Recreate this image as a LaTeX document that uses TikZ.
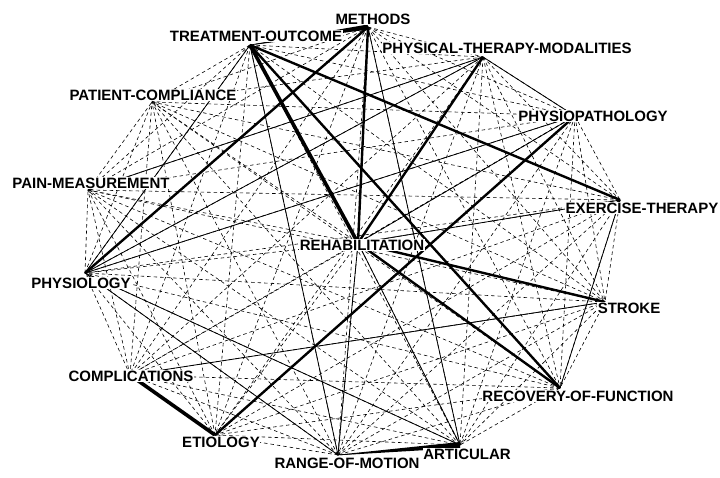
\documentclass[tikz,border=0pt]{standalone}
\usepackage{fontspec}
\newfontfamily\labfont{Liberation Sans}
\usetikzlibrary{calc}
\begin{document}
\begin{tikzpicture}[x=1pt,y=-1pt,
  dashedge/.style={dash pattern=on 3.5pt off 3pt, line width=0.6pt},
  thinedge/.style={line width=0.8pt},
  thickedge/.style={line width=2.4pt},
  heavyedge/.style={line width=3.6pt},
  term/.style={fill=white, inner sep=0.6pt,
    font=\labfont\bfseries\fontsize{15}{15}\selectfont}]
\fill[white] (0,0) rectangle (720,477);
\useasboundingbox (0,0) rectangle (720,477);

% anchor points of the terms
\coordinate (meth) at (368,27);
\coordinate (to)   at (250,45);
\coordinate (ptm)  at (483,57);
\coordinate (phpa) at (575,116);
\coordinate (ex)   at (620,200);
\coordinate (str)  at (605,302);
\coordinate (rec)  at (560,388);
\coordinate (art)  at (460,445);
\coordinate (rom)  at (338,455);
\coordinate (eti)  at (215,435);
\coordinate (comp) at (130,375);
\coordinate (phys) at (85,273);
\coordinate (pain) at (88,190);
\coordinate (pc)   at (152,102);
\coordinate (reh)  at (358,243);

% weak co-occurrences: every pair of terms
\foreach \a [count=\i] in {meth,to,ptm,phpa,ex,str,rec,art,rom,eti,comp,phys,pain,pc,reh}{
  \foreach \b [count=\j] in {meth,to,ptm,phpa,ex,str,rec,art,rom,eti,comp,phys,pain,pc,reh}{
    \ifnum\j>\i \draw[dashedge] (\a) -- (\b);\fi
  }
}

% medium co-occurrences
\foreach \a/\b in {phys/ptm, phys/phpa, phys/to, pain/ptm, reh/phpa, reh/rom,
  reh/art, reh/ex, comp/str, phys/art, phys/rom, ex/rec, art/meth, rom/to,
  ptm/phpa}
  \draw[thinedge] (\a) -- (\b);

% strong co-occurrences
\draw[heavyedge] (to) -- (reh);
\foreach \a/\b in {meth/reh, ptm/reh, to/rec, reh/rec, reh/str, eti/phpa,
  phys/meth, to/ex}
  \draw[thickedge] (\a) -- (\b);
\draw[heavyedge] (comp) -- (eti);
\fill ($(to)!0.3pt!90:(meth)$) -- ($(meth)!2.5pt!-90:(to)$)
  -- ($(meth)!2.5pt!90:(to)$) -- ($(to)!0.3pt!-90:(meth)$) -- cycle;
\fill ($(rom)!0.3pt!90:(art)$) -- ($(art)!3pt!-90:(rom)$)
  -- ($(art)!3pt!90:(rom)$) -- ($(rom)!0.3pt!-90:(art)$) -- cycle;

% term labels
\node[term] (l-meth) at (373,19)  {METHODS};
\node[term] (l-to)   at (256,36)  {TREATMENT-OUTCOME};
\node[term] (l-ptm)  at (507,48)  {PHYSICAL-THERAPY-MODALITIES};
\node[term] (l-phpa) at (593,116) {PHYSIOPATHOLOGY};
\node[term] (l-ex)   at (642,208) {EXERCISE-THERAPY};
\node[term] (l-str)  at (629,308) {STROKE};
\node[term] (l-rec)  at (578,396) {RECOVERY-OF-FUNCTION};
\node[term] (l-art)  at (467,454) {ARTICULAR};
\node[term] (l-rom)  at (347,463) {RANGE-OF-MOTION};
\node[term] (l-eti)  at (221,442) {ETIOLOGY};
\node[term] (l-comp) at (131,376) {COMPLICATIONS};
\node[term] (l-phys) at (81,283)  {PHYSIOLOGY};
\node[term] (l-pain) at (91,183)  {PAIN-MEASUREMENT};
\node[term] (l-pc)   at (153,95)  {PATIENT-COMPLIANCE};
\node[term] (l-reh)  at (362,245) {REHABILITATION};
\end{tikzpicture}
\end{document}
